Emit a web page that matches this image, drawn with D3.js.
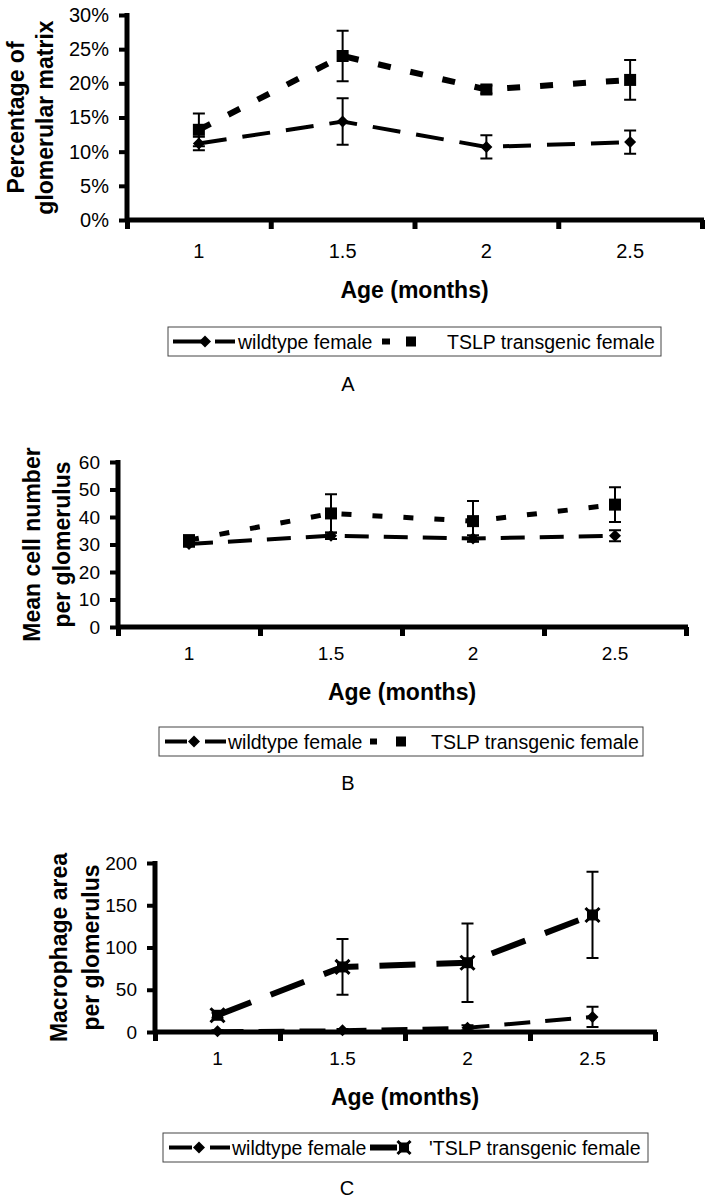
<!DOCTYPE html>
<html>
<head>
<meta charset="utf-8">
<script src="https://cdnjs.cloudflare.com/ajax/libs/d3/7.8.5/d3.min.js"></script>
<style>
  html, body { margin: 0; padding: 0; background: #fff; }
  svg { display: block; font-family: "Liberation Sans", Arial, sans-serif; }
</style>
</head>
<body>
<svg id="chart" width="708" height="1199"></svg>
<script>
// ---------- data ----------
const ages = ["1", "1.5", "2", "2.5"];
const seriesNames = ["wildtype female", "TSLP transgenic female"];

// Panel A: percentage of glomerular matrix
const matrixWild = [11.2, 14.4, 10.7, 11.4];
const matrixWildErr = [1.0, 3.4, 1.7, 1.7];
const matrixTslp = [13.2, 24.0, 19.1, 20.5];
const matrixTslpErr = [2.4, 3.7, 0.6, 2.9];
const matrixTicks = [0, 5, 10, 15, 20, 25, 30];

// Panel B: mean cell number per glomerulus
const cellWild = [30.2, 33.2, 32.2, 33.2];
const cellWildErr = [1.0, 1.2, 1.2, 2.0];
const cellTslp = [31.6, 41.3, 38.5, 44.5];
const cellTslpErr = [1.5, 7.0, 7.3, 6.3];
const cellTicks = [0, 10, 20, 30, 40, 50, 60];

// Panel C: macrophage area per glomerulus
const macroWild = [1, 2, 5, 17.8];
const macroWildErr = [1, 1.5, 3, 12];
const macroTslp = [19.8, 77, 82, 138.5];
const macroTslpErr = [3, 33, 46.5, 51];
const macroTicks = [0, 50, 100, 150, 200];

const svg = d3.select("#chart");

function diamond(g, x, y, r) {
  g.append("path")
    .attr("d", `M${x},${y - r}L${x + r},${y}L${x},${y + r}L${x - r},${y}Z`)
    .attr("fill", "#000");
}
function square(g, x, y, s, cross) {
  g.append("rect").attr("x", x - s / 2).attr("y", y - s / 2)
    .attr("width", s).attr("height", s).attr("fill", "#000");
  if (cross) {
    const h = s / 2 + 1.5;
    g.append("path")
      .attr("d", `M${x - h},${y - h}L${x + h},${y + h}M${x + h},${y - h}L${x - h},${y + h}`)
      .attr("stroke", "#000").attr("stroke-width", 3);
  }
}

function drawPanel(p) {
  const g = svg.append("g");
  const x = d3.scaleBand().domain(ages).range([p.x0, p.x1]);
  const xEdge = d3.scaleLinear().domain([0, ages.length]).range([p.x0, p.x1]);
  const y = d3.scaleLinear().domain([0, p.ticks[p.ticks.length - 1]]).range([p.yb, p.yt]);
  const cx = d => x(d) + x.bandwidth() / 2;

  // y axis
  const ya = g.append("g").attr("transform", `translate(${p.x0},0)`)
    .call(d3.axisLeft(y).tickValues(p.ticks).tickSize(8).tickPadding(10)
      .tickFormat(p.fmt));
  ya.select(".domain").attr("stroke-width", 5).attr("d", `M0,${p.yt - 2}V${p.yb}`);
  ya.selectAll(".tick line").attr("stroke-width", 4);
  ya.selectAll(".tick text").attr("font-size", p.tickFont).attr("fill", "#000")
    .attr("font-family", "Liberation Sans, Arial, sans-serif");

  // x axis: ticks at band edges
  const xa = g.append("g").attr("transform", `translate(0,${p.yb})`)
    .call(d3.axisBottom(xEdge).tickValues(d3.range(ages.length + 1)).tickSize(9).tickFormat(""));
  xa.select(".domain").attr("stroke-width", 5).attr("d", `M${p.x0 - 2},0H${p.x1 + 2}`);
  xa.selectAll(".tick line").attr("stroke-width", 5);
  // x labels at band centers
  const xl = g.append("g").attr("transform", `translate(0,${p.yb})`)
    .call(d3.axisBottom(x).tickSize(0).tickPadding(p.xLabelPad));
  xl.select(".domain").remove();
  xl.selectAll(".tick text").attr("font-size", p.tickFont).attr("fill", "#000")
    .attr("font-family", "Liberation Sans, Arial, sans-serif");

  // axis titles
  g.append("text").attr("x", (p.x0 + p.x1) / 2).attr("y", p.xTitleY)
    .attr("text-anchor", "middle").attr("dominant-baseline", "central")
    .attr("font-size", 23).attr("font-weight", "bold").text("Age (months)");
  const yc = (p.yt + p.yb) / 2;
  p.yTitle.forEach((t, i) => {
    g.append("text").attr("transform", `translate(${p.yTitleX[i]},${yc}) rotate(-90)`)
      .attr("text-anchor", "middle").attr("dominant-baseline", "central")
      .attr("font-size", 23).attr("font-weight", "bold").text(t);
  });

  // series
  const line = d3.line().x(d => cx(d.a)).y(d => y(d.v));
  p.series.forEach(s => {
    const pts = ages.map((a, i) => ({ a, v: s.vals[i], e: s.err[i] }));
    g.append("path").datum(pts).attr("d", line).attr("fill", "none")
      .attr("stroke", "#000").attr("stroke-width", s.width)
      .attr("stroke-dasharray", s.dash);
    pts.forEach(d => {
      const xx = cx(d.a);
      const y1 = y(d.v + d.e), y2 = y(Math.max(0, d.v - d.e));
      g.append("path")
        .attr("d", `M${xx},${y1}V${y2}M${xx - 6},${y1}H${xx + 6}M${xx - 6},${y2}H${xx + 6}`)
        .attr("stroke", "#000").attr("stroke-width", 2).attr("fill", "none");
      if (s.marker === "diamond") diamond(g, xx, y(d.v), 6);
      else square(g, xx, y(d.v), s.msize, s.marker === "cross");
    });
  });

  // legend
  const L = p.legend;
  g.append("rect").attr("x", L.x0).attr("y", L.y0).attr("width", L.x1 - L.x0).attr("height", L.y1 - L.y0)
    .attr("fill", "#fff").attr("stroke", "#444").attr("stroke-width", 1);
  const ly = (L.y0 + L.y1) / 2;
  // wildtype symbol
  g.append("path").attr("d", `M${L.w[0]},${ly}H${L.w[1]}M${L.w[3]},${ly}H${L.w[4]}`)
    .attr("stroke", "#000").attr("stroke-width", 4);
  diamond(g, L.w[2], ly, 6);
  g.append("text").attr("x", L.wt).attr("y", ly).attr("dominant-baseline", "central")
    .attr("font-size", L.font).text(seriesNames[0]);
  // tslp symbol
  g.append("path").attr("d", `M${L.t[0]},${ly}H${L.t[1]}`)
    .attr("stroke", "#000").attr("stroke-width", 6);
  square(g, L.t[2], ly, 10, p.series[1].marker === "cross");
  g.append("text").attr("x", L.tt).attr("y", ly).attr("dominant-baseline", "central")
    .attr("font-size", L.font).text((L.prefix || "") + seriesNames[1]);

  g.append("text").attr("x", p.letter[0]).attr("y", p.letter[1]).attr("text-anchor", "middle")
    .attr("dominant-baseline", "central").attr("font-size", 20).text(p.letter[2]);
}

drawPanel({
  x0: 127, x1: 702, yt: 15, yb: 220, ticks: matrixTicks, fmt: d => d + "%",
  tickFont: 20, xLabelPad: 24, xTitleY: 290,
  yTitle: ["Percentage of", "glomerular matrix"], yTitleX: [16, 45],
  series: [
    { vals: matrixWild, err: matrixWildErr, marker: "diamond", width: 4, dash: "28,16" },
    { vals: matrixTslp, err: matrixTslpErr, marker: "square", msize: 12, width: 6, dash: "13,20" }
  ],
  legend: { x0: 168, x1: 661, y0: 327, y1: 356, font: 19.5, w: [173, 203, 205, 215, 235], wt: 238, t: [382, 390, 411], tt: 447 },
  letter: [348, 384, "A"]
});

drawPanel({
  x0: 118, x1: 686, yt: 462, yb: 627, ticks: cellTicks, fmt: d => d,
  tickFont: 19, xLabelPad: 20, xTitleY: 692,
  yTitle: ["Mean cell number", "per glomerulus"], yTitleX: [32, 62],
  series: [
    { vals: cellWild, err: cellWildErr, marker: "diamond", width: 4, dash: "24,15" },
    { vals: cellTslp, err: cellTslpErr, marker: "square", msize: 12, width: 5, dash: "10,21" }
  ],
  legend: { x0: 159, x1: 643, y0: 727, y1: 756, font: 19.5, w: [165, 187, 194, 205, 226], wt: 228, t: [370, 377, 401], tt: 431 },
  letter: [348, 783, "B"]
});

drawPanel({
  x0: 155, x1: 655, yt: 863, yb: 1032, ticks: macroTicks, fmt: d => d,
  tickFont: 19, xLabelPad: 20, xTitleY: 1097,
  yTitle: ["Macrophage area", "per glomerulus"], yTitleX: [59, 91],
  series: [
    { vals: macroWild, err: macroWildErr, marker: "diamond", width: 4, dash: "26,15" },
    { vals: macroTslp, err: macroTslpErr, marker: "cross", msize: 11, width: 6, dash: "36,21" }
  ],
  legend: { x0: 163, x1: 648, y0: 1133, y1: 1162, font: 19.5, w: [169, 192, 199, 210, 230], wt: 232, t: [370, 397, 404], tt: 429, prefix: "'" },
  letter: [347, 1188, "C"]
});
</script>
</body>
</html>
